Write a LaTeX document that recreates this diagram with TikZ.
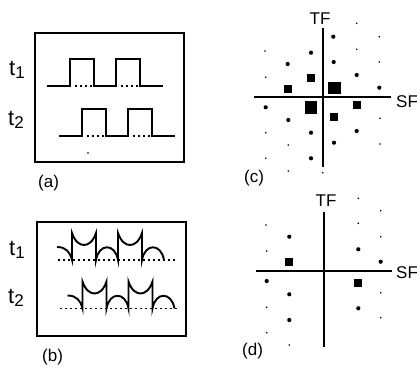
\documentclass[tikz,border=0pt]{standalone}
\usepackage{fontspec}
\setmainfont{Liberation Sans}
\usetikzlibrary{positioning}

\newcommand{\tsub}[1]{{\fontsize{22}{22}\selectfont t}\raisebox{-3.5pt}{\fontsize{17}{17}\selectfont #1}}

\begin{document}
\begin{tikzpicture}[x=1pt, y=-1pt,
    frame/.style={draw, line width=1.9pt, inner sep=0pt},
    lab/.style={inner sep=0pt, anchor=base west, font=\fontsize{17}{17}\selectfont},
    axlab/.style={inner sep=0pt, anchor=base, font=\fontsize{17}{17}\selectfont},
    wave/.style={line width=1.9pt, line join=miter},
    base/.style={line width=1.6pt, dash pattern=on 1.6pt off 3.4pt},
    axis/.style={line width=1.9pt}]

    \useasboundingbox (0,0) rectangle (417,367);

    % (a) square pulses
    \node[frame, minimum width=149pt, minimum height=129pt] (boxa) at (109.5,97.5) {};
    \node[lab] (ta1) at (9,75) {\tsub{1}};
    \node[lab] (ta2) at (8,125) {\tsub{2}};
    \node[lab] (capa) at (38,187) {(a)};
    \foreach \dx/\dy in {0/0, 12/50}{
        \draw[wave, shift={(\dx,\dy)}] (47,86) -| (70,59) -| (94,86) -- (116,86) -- (116,59) -| (140,86) -- (163,86);
        \draw[base, shift={(\dx,\dy)}] (75,86) -- (92,86) (121,86) -- (138,86);
    }
    \fill (88,153) circle (0.8);

    % (b) cusped pulses
    \node[frame, minimum width=149pt, minimum height=114pt] (boxb) at (111.5,279) {};
    \node[lab] (tb1) at (9,255) {\tsub{1}};
    \node[lab] (tb2) at (8,303) {\tsub{2}};
    \node[lab] (capb) at (42,361) {(b)};
    \draw[base] (58,260) -- (177,260);
    \draw[base] (60,308.5) -- (177,308.5);
    \foreach \dx/\dy in {0/0, 10.5/48.5}{
        \draw[wave, shift={(\dx,\dy)}] (57,247) .. controls (66,247) and (70,252) .. (72,260) -- (72,233)
            .. controls (75,242) and (80,245) .. (84,245) .. controls (88,245) and (93,242) .. (96,233) -- (96,260)
            .. controls (99,243) and (115,243) .. (118,260) -- (118,233)
            .. controls (121,242) and (126,245) .. (130,245) .. controls (134,245) and (139,242) .. (142,233) -- (142,260)
            .. controls (145,243) and (161,243) .. (164,260);
    }

    % (c)
    \coordinate (cN) at (322.7,28);
    \coordinate (cS) at (322.7,167);
    \coordinate (cW) at (254,97);
    \coordinate (cE) at (391,97);
    \draw[axis] (cN) -- (cS);
    \draw[axis] (cW) -- (cE);
    \node[axlab] (tfc) at (320,24) {TF};
    \node[lab] (sfc) at (396,107) {SF};
    \node[lab] (capc) at (244,182) {(c)};
    \foreach \x/\y in {356.7/23.3, 379.3/36.7, 265/51, 356.7/49.3, 379.3/62, 265.7/77.3, 380/118.3,
        265.7/132.7, 288.3/145, 380/144, 265.7/158.3, 288.3/171, 322.7/172.7}
        \fill (\x,\y) circle (0.9);
    \foreach \x/\y in {333.3/36.7, 311/52.7, 287.7/64, 333.7/62, 356.7/75, 379.3/87.7, 265.7/107.3,
        288.3/120, 311/132.7, 356.7/131, 334/142.7, 311/158.3}
        \fill (\x,\y) circle (2.1);
    \foreach \x/\y in {311/78.3, 288.3/89.3, 356.7/105.3, 334/116.7}
        \fill (\x,\y) ++(-4,-4) rectangle ++(8,8);
    \foreach \x/\y in {334.2/88, 311/107.3}
        \fill (\x,\y) ++(-6.3,-6.3) rectangle ++(12.6,12.6);

    % (d)
    \coordinate (dN) at (324,211.7);
    \coordinate (dS) at (324,346.7);
    \coordinate (dW) at (256,271.3);
    \coordinate (dE) at (392,271.3);
    \draw[axis] (dN) -- (dS);
    \draw[axis] (dW) -- (dE);
    \node[axlab] (tfd) at (326,206) {TF};
    \node[lab] (sfd) at (396,278) {SF};
    \node[lab] (capd) at (242,355) {(d)};
    \foreach \x/\y in {358.3/198.3, 380.7/210.7, 266/225, 358.3/223.3, 380.7/236.7, 266.7/251,
        380.7/292.7, 266.7/307.3, 380.7/317.7, 266.7/332.7, 289.3/345}
        \fill (\x,\y) circle (0.9);
    \foreach \x/\y in {289.3/236.7, 358.3/249.3, 380.7/261.7, 266.7/281, 289.3/294.3, 358.3/308.3, 289.3/320}
        \fill (\x,\y) circle (2.1);
    \foreach \x/\y in {289.3/261.7, 358.3/283.3}
        \fill (\x,\y) ++(-4,-4) rectangle ++(8,8);

\end{tikzpicture}
\end{document}
